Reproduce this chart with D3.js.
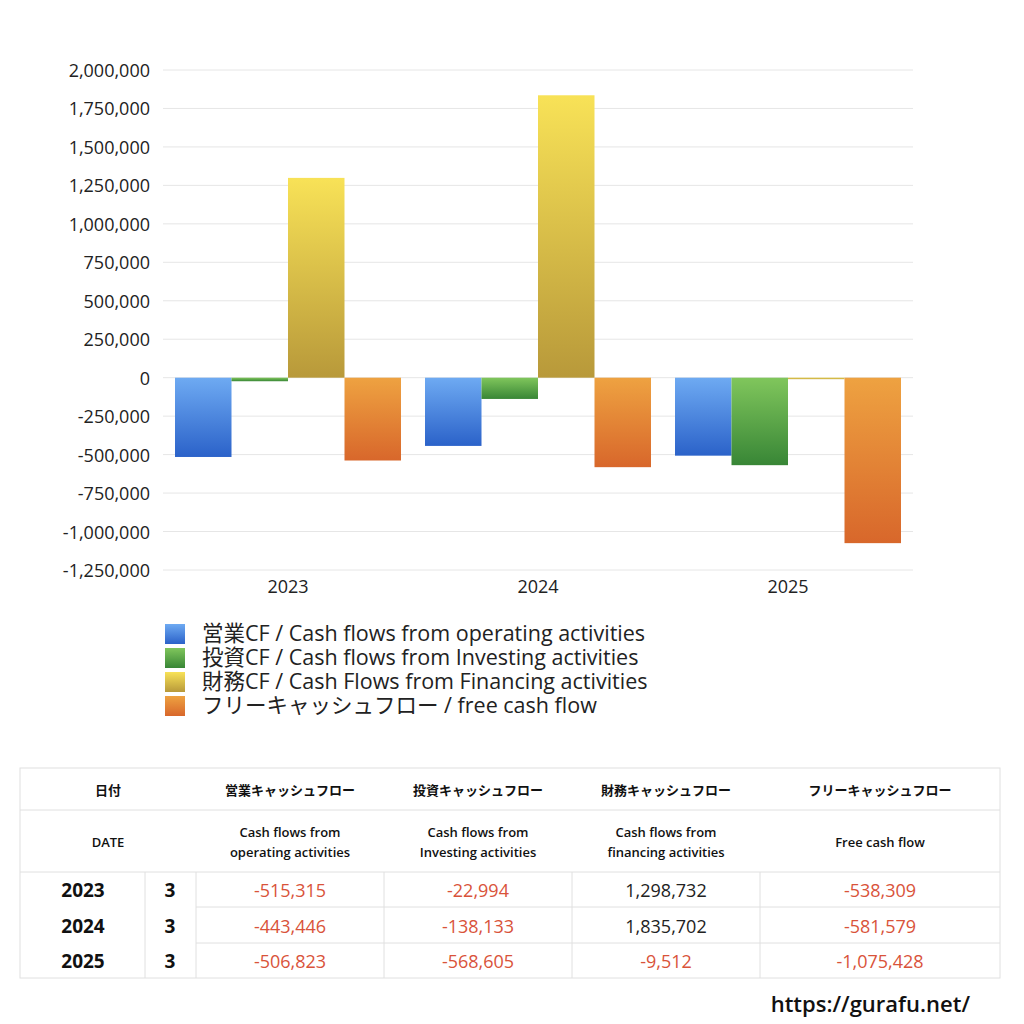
<!DOCTYPE html>
<html><head><meta charset="utf-8">
<script src="https://cdn.jsdelivr.net/npm/d3@7"></script>
<style>body{margin:0;background:#fff;font-family:"Open Sans","Noto Sans CJK JP",sans-serif}</style>
</head><body>
<script>
// data
var years = ["2023", "2024", "2025"];
var months = ["3", "3", "3"];
var operating = [-515315, -443446, -506823];
var investing = [-22994, -138133, -568605];
var financing = [1298732, 1835702, -9512];
var freeCF = [-538309, -581579, -1075428];
var seriesNames = ["営業CF / Cash flows from operating activities", "投資CF / Cash flows from Investing activities",
  "財務CF / Cash Flows from Financing activities", "フリーキャッシュフロー / free cash flow"];
var tickValues = [2000000, 1750000, 1500000, 1250000, 1000000, 750000, 500000, 250000, 0, -250000, -500000, -750000, -1000000, -1250000];

var series = [operating, investing, financing, freeCF];
var grads = [["#6eaaf2", "#2b62c9"], ["#80c65c", "#388636"], ["#f8e257", "#b8993a"], ["#eea241", "#d8672b"]];
var fmt = function(v) { return d3.format(",")(v).replace("\u2212", "-"); };

var svg = d3.select("body").append("svg").attr("width", 1024).attr("height", 1024);
var defs = svg.append("defs");
grads.forEach(function(g, i) {
  var lg = defs.append("linearGradient").attr("id", "g" + i).attr("x1", 0).attr("y1", 0).attr("x2", 0).attr("y2", 1);
  lg.append("stop").attr("offset", "0%").attr("stop-color", g[0]);
  lg.append("stop").attr("offset", "100%").attr("stop-color", g[1]);
});

var x0 = d3.scaleBand().domain(years).range([163, 913]);
var x1 = d3.scaleBand().domain([0, 1, 2, 3]).range([12, 238]);
var y = d3.scaleLinear().domain([-1250000, 2000000]).range([570, 70]);

svg.append("g").selectAll("line").data(tickValues).join("line")
  .attr("x1", 163).attr("x2", 913).attr("y1", function(d) { return y(d); }).attr("y2", function(d) { return y(d); })
  .attr("stroke", "#e6e6e6");

svg.append("g").selectAll("text").data(tickValues).join("text")
  .attr("x", 150).attr("y", function(d) { return y(d) + 7; }).attr("text-anchor", "end")
  .attr("font-size", 18).attr("fill", "#222").text(fmt);

series.forEach(function(s, si) {
  svg.append("g").selectAll("rect").data(s).join("rect")
    .attr("x", function(d, i) { return x0(years[i]) + x1(si); })
    .attr("width", x1.bandwidth())
    .attr("y", function(d) { return y(Math.max(0, d)); })
    .attr("height", function(d) { return Math.abs(y(d) - y(0)); })
    .attr("fill", "url(#g" + si + ")");
});

svg.append("g").selectAll("text").data(years).join("text")
  .attr("x", function(d) { return x0(d) + x0.bandwidth() / 2; }).attr("y", 593)
  .attr("text-anchor", "middle").attr("font-size", 18).attr("fill", "#222").text(function(d) { return d; });

// legend
seriesNames.forEach(function(n, i) {
  var ly = 634 + i * 24;
  svg.append("rect").attr("x", 165).attr("y", ly - 10).attr("width", 20).attr("height", 20).attr("fill", "url(#g" + i + ")");
  svg.append("text").attr("x", 202).attr("y", ly + 7).attr("font-size", 21.5).attr("fill", "#222").text(n);
});

// table
var t = svg.append("g").attr("stroke", "#e0e0e0").attr("fill", "none");
t.append("rect").attr("x", 20).attr("y", 768).attr("width", 980).attr("height", 210);
[810, 872].forEach(function(v) { t.append("line").attr("x1", 20).attr("x2", 1000).attr("y1", v).attr("y2", v); });
[907, 943].forEach(function(v) { t.append("line").attr("x1", 196).attr("x2", 1000).attr("y1", v).attr("y2", v); });
[145, 196, 384, 572, 760].forEach(function(v) { t.append("line").attr("x1", v).attr("x2", v).attr("y1", 872).attr("y2", 978); });

var colX = [290, 478, 666, 880];
var h1 = ["営業キャッシュフロー", "投資キャッシュフロー", "財務キャッシュフロー", "フリーキャッシュフロー"];
var h2 = [["Cash flows from", "operating activities"], ["Cash flows from", "Investing activities"], ["Cash flows from", "financing activities"], ["Free cash flow"]];
function txt(x, yy, s, size, weight, color) {
  svg.append("text").attr("x", x).attr("y", yy).attr("text-anchor", "middle").attr("font-size", size)
    .attr("font-weight", weight).attr("fill", color || "#111").text(s);
}
txt(108, 795, "日付", 13, "bold");
txt(108, 847, "DATE", 13, "600");
h1.forEach(function(s, i) { txt(colX[i], 795, s, 13, "bold"); });
h2.forEach(function(a, i) {
  if (a.length === 2) { txt(colX[i], 837, a[0], 13, "600"); txt(colX[i], 857, a[1], 13, "600"); }
  else txt(colX[i], 847, a[0], 13, "600");
});
years.forEach(function(yr, r) {
  var ry = 897 + r * 35.5;
  txt(83, ry, yr, 19, "bold");
  txt(170, ry, months[r], 19, "bold");
  series.forEach(function(s, si) {
    txt(colX[si], ry, fmt(s[r]), 18, "normal", s[r] < 0 ? "#d9533a" : "#222");
  });
});

svg.append("text").attr("x", 970).attr("y", 1012).attr("text-anchor", "end").attr("font-size", 22)
  .attr("font-weight", "600").attr("fill", "#111").text("https://gurafu.net/");
</script>
</body></html>
